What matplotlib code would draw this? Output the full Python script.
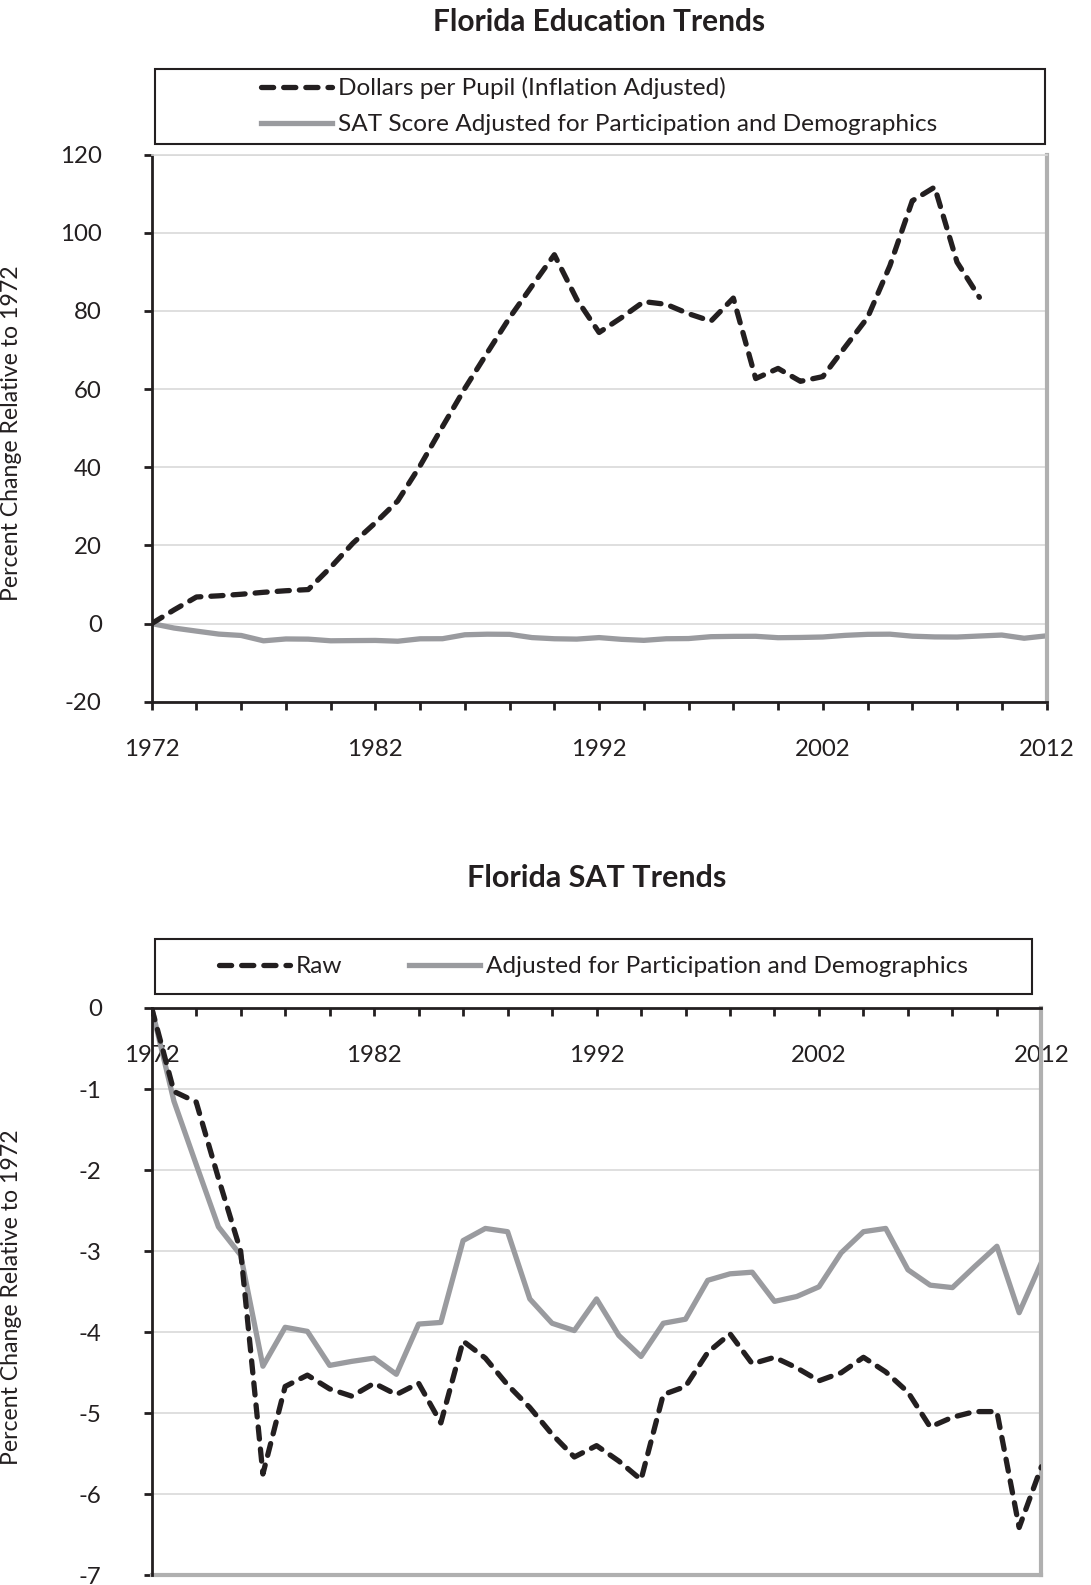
import matplotlib
matplotlib.use("Agg")
import matplotlib.pyplot as plt
from matplotlib.patches import Rectangle
from matplotlib.ticker import FixedLocator, FixedFormatter

plt.rcParams['font.family'] = ['Lato', 'DejaVu Sans']
plt.rcParams['axes.unicode_minus'] = False

# ---------------- data ----------------
years_spend = list(range(1972, 2010))
dollars_per_pupil = [0, 3.5, 6.8, 7.1, 7.5, 8.0, 8.4, 8.7, 14.4, 20.6, 25.8, 31.4,
                     40.4, 50.4, 60.2, 69.3, 78.3, 86.4, 94.4, 83.0, 74.5, 78.3,
                     82.4, 81.7, 79.3, 77.4, 83.3, 62.7, 65.3, 62.0, 63.2, 70.8,
                     78.3, 91.6, 108.2, 111.7, 92.5, 83.5]

years_sat = list(range(1972, 2013))
sat_adjusted = [0, -1.15, -1.93, -2.70, -3.05, -4.42, -3.94, -3.99, -4.41, -4.36,
                -4.32, -4.52, -3.90, -3.88, -2.87, -2.72, -2.76, -3.59, -3.89, -3.98,
                -3.59, -4.04, -4.30, -3.89, -3.84, -3.36, -3.28, -3.26, -3.62, -3.56,
                -3.44, -3.02, -2.76, -2.72, -3.23, -3.42, -3.45, -3.19, -2.94, -3.76,
                -3.14]
sat_raw = [0, -1.03, -1.16, -2.10, -3.00, -5.75, -4.67, -4.53, -4.70, -4.79,
           -4.63, -4.77, -4.63, -5.12, -4.11, -4.32, -4.65, -4.93, -5.26, -5.54,
           -5.40, -5.59, -5.82, -4.77, -4.67, -4.25, -4.02, -4.39, -4.31, -4.44,
           -4.60, -4.50, -4.31, -4.49, -4.74, -5.17, -5.05, -4.98, -4.98, -6.41,
           -5.66]

tick_years = list(range(1972, 2013, 2))
year_labels = ['1972', '1982', '1992', '2002', '2012']
top_yticks = [-20, 0, 20, 40, 60, 80, 100, 120]
bot_yticks = [0, -1, -2, -3, -4, -5, -6, -7]

top_title = "Florida Education Trends"
bot_title = "Florida SAT Trends"
ylabel = "Percent Change Relative to 1972"
top_labels = ["Dollars per Pupil (Inflation Adjusted)",
              "SAT Score Adjusted for Participation and Demographics"]
bot_labels = ["Raw", "Adjusted for Participation and Demographics"]

# ---------------- style ----------------
DARK = '#231f20'
GRAY = '#9a9b9f'
GRID = '#d9d9d9'
FS = 17.3
LFS = 17.6
DASH = (0, (2.3, 1.9))

W, H = 1091, 1585
fig = plt.figure(figsize=(W / 100, H / 100), dpi=100)


def fx(px):
    return px / W


def fy(py):
    return 1 - py / H


def xlabels_for(ticks):
    return [str(t) if str(t) in year_labels else '' for t in ticks]


# ---------------- top chart ----------------
ax1 = fig.add_axes([fx(151.7), fy(701.7), fx(1046.5 - 151.7), (701.7 - 154.7) / H])
ax1.plot(years_spend, dollars_per_pupil, color=DARK, lw=3.8, linestyle=DASH,
         dash_capstyle='round', label=top_labels[0], zorder=3)
ax1.plot(years_sat, sat_adjusted, color=GRAY, lw=3.8, label=top_labels[1],
         solid_joinstyle='round', zorder=2)
ax1.set_xlim(1972, 2012)
ax1.set_ylim(-20, 120)
ax1.set_yticks(top_yticks)
ax1.xaxis.set_major_locator(FixedLocator(tick_years))
ax1.xaxis.set_major_formatter(FixedFormatter(xlabels_for(tick_years)))
ax1.grid(axis='y', color=GRID, lw=1.2)
ax1.set_axisbelow(True)
for s in ['left', 'bottom']:
    ax1.spines[s].set_color(DARK)
    ax1.spines[s].set_linewidth(2)
ax1.spines['top'].set_color(GRID)
ax1.spines['top'].set_linewidth(1.2)
ax1.spines['right'].set_color('#b0b0b0')
ax1.spines['right'].set_linewidth(3)
ax1.tick_params(axis='both', direction='out', length=6, width=2, color=DARK,
                labelsize=FS, labelcolor=DARK)
ax1.tick_params(axis='x', pad=21)
ax1.tick_params(axis='y', pad=30)
ax1.set_ylabel(ylabel, fontsize=16.6, color=DARK)
ax1.yaxis.set_label_coords(-129.5 / 894.8, 0.49)

h, l = ax1.get_legend_handles_labels()
fig.add_artist(Rectangle((fx(154.7), fy(143.6)), fx(1044.5 - 154.7), (143.6 - 68.8) / H,
                         transform=fig.transFigure, fill=False, ec=DARK, lw=1.5))
fig.legend(h, l, loc='center', bbox_to_anchor=(fx((154.7 + 1044.5) / 2), fy((68.8 + 143.6) / 2)),
           frameon=False, fontsize=LFS, handlelength=2.9, handletextpad=0.25,
           labelspacing=0.62, labelcolor=DARK)

fig.text(fx(599), fy(22.2), top_title, ha='center', va='center', fontsize=21.5,
         fontweight='bold', color=DARK)

# ---------------- bottom chart ----------------
ax2 = fig.add_axes([fx(151.7), fy(1575.3), fx(1041.4 - 151.7), (1575.3 - 1008) / H])
ax2.plot(years_sat, sat_raw, color=DARK, lw=3.8, linestyle=DASH,
         dash_capstyle='round', label=bot_labels[0], zorder=3)
ax2.plot(years_sat, sat_adjusted, color=GRAY, lw=3.8, label=bot_labels[1], zorder=2)
ax2.set_xlim(1972, 2012)
ax2.set_ylim(-7, 0)
ax2.set_yticks(bot_yticks)
ax2.xaxis.set_major_locator(FixedLocator(tick_years))
ax2.xaxis.set_major_formatter(FixedFormatter(xlabels_for(tick_years)))
ax2.grid(axis='y', color=GRID, lw=1.2)
ax2.set_axisbelow(True)
ax2.spines['bottom'].set_position(('data', 0))
ax2.spines['bottom'].set_zorder(4)
for s in ['left', 'bottom']:
    ax2.spines[s].set_color(DARK)
    ax2.spines[s].set_linewidth(2)
ax2.spines['top'].set_visible(False)
ax2.spines['right'].set_color('#b0b0b0')
ax2.spines['right'].set_linewidth(3)
ax2.axhline(-7, color='#b0b0b0', lw=3, zorder=1, clip_on=False)
ax2.tick_params(axis='both', direction='out', length=6, width=2, color=DARK,
                labelsize=FS, labelcolor=DARK)
ax2.tick_params(axis='x', pad=21)
ax2.tick_params(axis='y', pad=30)
ax2.set_ylabel(ylabel, fontsize=16.6, color=DARK)
ax2.yaxis.set_label_coords(-129.5 / 889.7, 0.49)

h2, l2 = ax2.get_legend_handles_labels()
fig.add_artist(Rectangle((fx(154.7), fy(993.9)), fx(1032.3 - 154.7), (993.9 - 939.3) / H,
                         transform=fig.transFigure, fill=False, ec=DARK, lw=1.5))
fig.legend(h2, l2, loc='center', ncol=2,
           bbox_to_anchor=(fx((154.7 + 1032.3) / 2), fy((939.3 + 993.9) / 2)),
           frameon=False, fontsize=LFS, handlelength=2.9, handletextpad=0.25,
           columnspacing=2.7, labelcolor=DARK)

fig.text(fx(596.5), fy(877.6), bot_title, ha='center', va='center', fontsize=22,
         fontweight='bold', color=DARK)

fig.savefig('out.png', dpi=100)
